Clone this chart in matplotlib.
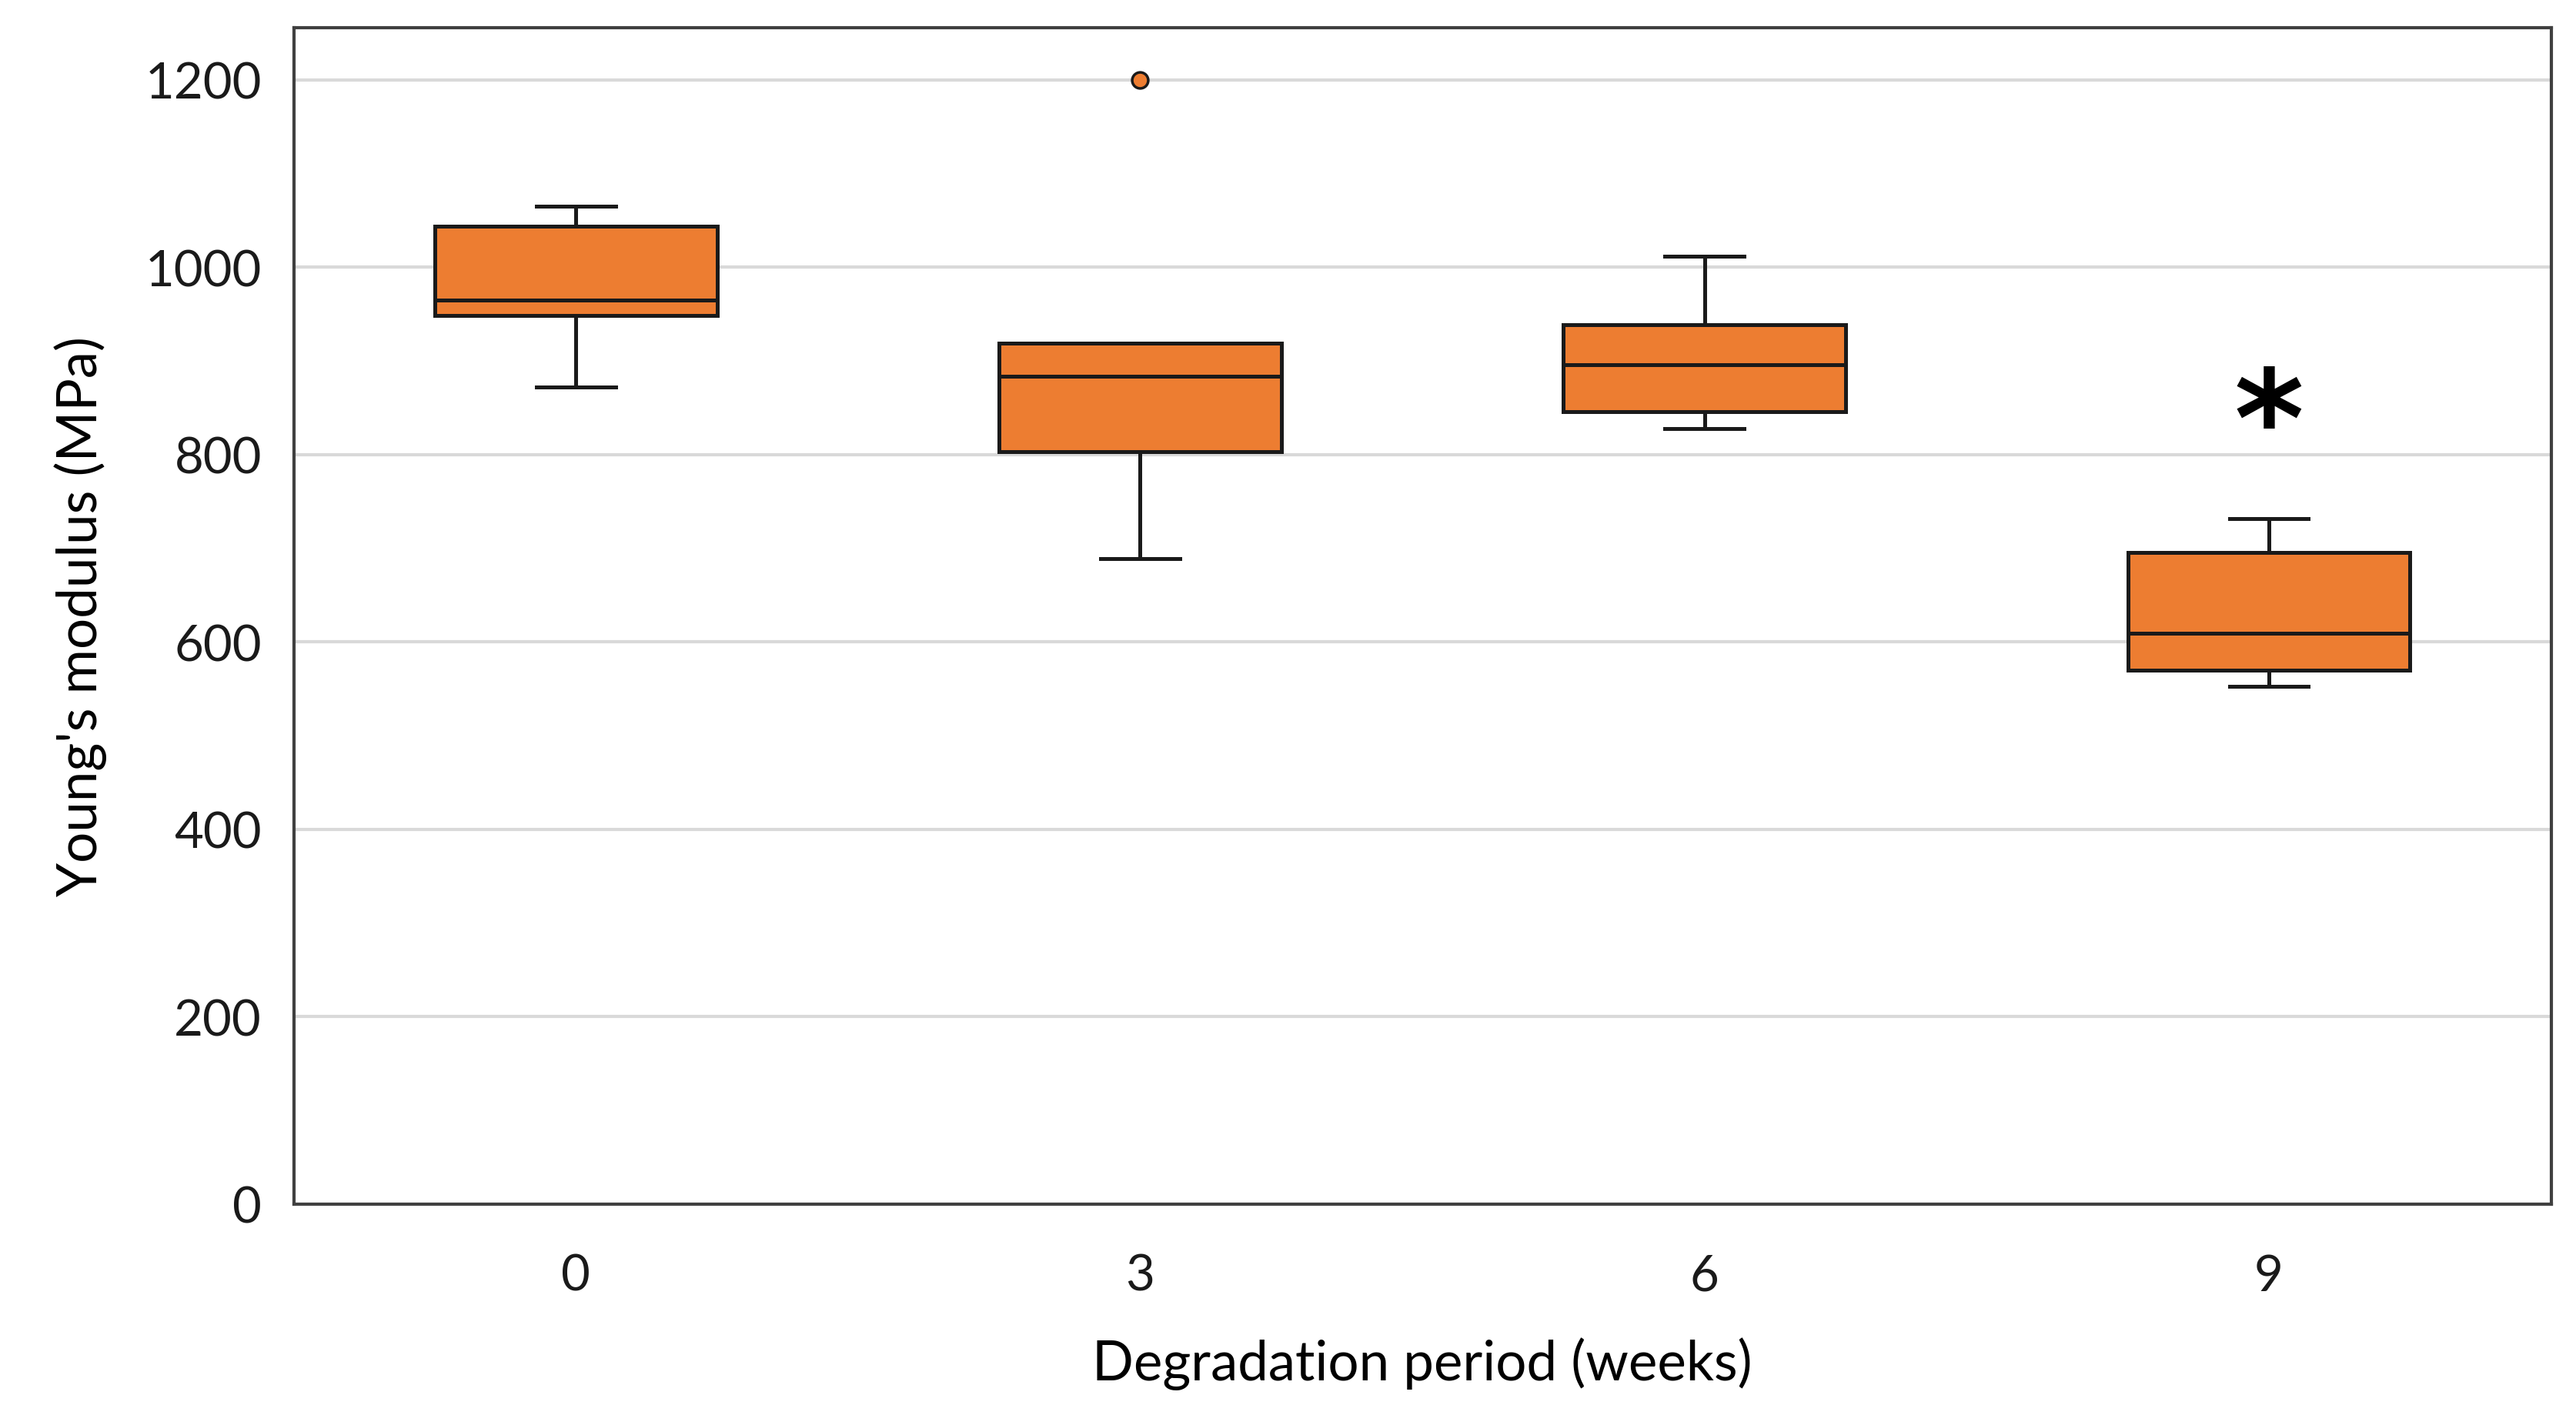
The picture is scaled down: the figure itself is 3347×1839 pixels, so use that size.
import matplotlib.pyplot as plt

# degradation period (weeks) and box statistics, Young's modulus in MPa
weeks = ["0", "3", "6", "9"]
whislo = [872, 689, 828, 553]
q1 = [949, 803, 846, 570]
med = [965, 884, 896, 609]
q3 = [1044, 919, 939, 696]
whishi = [1065, 919, 1012, 732]
fliers = [[], [1200], [], []]
signif = ["", "", "", "*"]
signif_y = [0, 0, 0, 828]

plt.rcParams['font.family'] = ['Lato', 'DejaVu Sans']

stats = []
for i in range(len(weeks)):
    stats.append({"label": weeks[i], "whislo": whislo[i], "q1": q1[i], "med": med[i],
                  "q3": q3[i], "whishi": whishi[i], "fliers": fliers[i]})

fig = plt.figure(figsize=(33.48, 18.4), dpi=100)
ax = fig.add_axes([0.114, 0.149, 0.876, 0.831])

orange = "#ED7D31"
lw = 3.6
ax.bxp(stats, positions=range(len(weeks)), widths=0.5, capwidths=0.14,
       patch_artist=True,
       boxprops=dict(facecolor=orange, edgecolor="#1a1a1a", linewidth=lw),
       medianprops=dict(color="#1a1a1a", linewidth=lw),
       whiskerprops=dict(color="#1a1a1a", linewidth=lw),
       capprops=dict(color="#1a1a1a", linewidth=lw),
       flierprops=dict(marker="o", markerfacecolor=orange, markeredgecolor="#1a1a1a",
                       markersize=15, markeredgewidth=2.5))

for i, s in enumerate(signif):
    if s:
        ax.text(i, signif_y[i], s, ha="center", va="center", fontsize=125,
                fontweight="bold", family="DejaVu Sans")

ax.set_xlim(-0.5, 3.5)
ax.set_ylim(0, 1256)
ax.set_yticks([0, 200, 400, 600, 800, 1000, 1200])
ax.yaxis.grid(True, color="#d9d9d9", linewidth=3)
ax.set_axisbelow(True)
for sp in ax.spines.values():
    sp.set_color("#404040")
    sp.set_linewidth(3)
ax.tick_params(axis="both", length=0, labelsize=47, colors="#1a1a1a")
ax.tick_params(axis="y", pad=30)
ax.tick_params(axis="x", pad=46)

ax.set_xlabel("Degradation period (weeks)", fontsize=51, labelpad=36)
ax.set_ylabel("Young's modulus (MPa)", fontsize=51, labelpad=36)

plt.savefig("out.png", dpi=100)
